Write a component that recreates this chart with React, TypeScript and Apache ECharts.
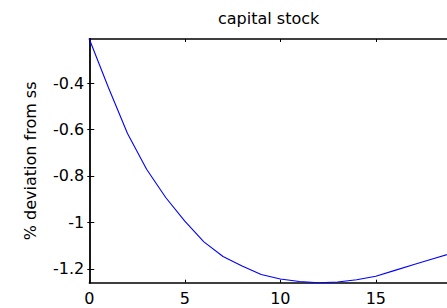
import React, { useEffect, useRef } from "react";
import * as echarts from "echarts";

// Data (MATLAB-style impulse response)
const periods: number[] = [0, 1, 2, 3, 4, 5, 6, 7, 8, 9, 10, 11, 12, 13, 14, 15, 16, 17, 18, 19];
const capitalStock: number[] = [
  -0.21, -0.419, -0.617, -0.771, -0.893, -0.995, -1.084, -1.147, -1.188, -1.225,
  -1.244, -1.255, -1.26, -1.257, -1.247, -1.232, -1.207, -1.182, -1.157, -1.132,
];
const yTicks: number[] = [-1.2, -1, -0.8, -0.6, -0.4];
const xTicks: number[] = [0, 5, 10, 15];
const titleText = "capital stock";
const yAxisName = "% deviation from ss";

const W = 447;
const H = 308;
const FONT = "'DejaVu Sans', 'Liberation Sans', Arial, sans-serif";

export default function App() {
  const ref = useRef<HTMLDivElement>(null);
  useEffect(() => {
    if (!ref.current) return;
    const chart = echarts.init(ref.current, undefined, { renderer: "svg", width: W, height: H });
    const gridLeft = 89.3;
    const pxPerUnit = 19.1;
    const gridWidth = 19 * pxPerUnit;
    chart.setOption({
      animation: false,
      backgroundColor: "#ffffff",
      title: {
        text: titleText,
        left: 218,
        top: 10,
        padding: 0,
        textStyle: { fontFamily: FONT, fontSize: 16, fontWeight: "normal", color: "#000" },
      },
      grid: {
        left: gridLeft,
        top: 39,
        width: gridWidth,
        height: 243.7,
        containLabel: false,
        outerBoundsMode: "none",
      },
      xAxis: [
        {
          type: "value",
          position: "bottom",
          min: 0,
          max: 19,
          axisLine: { show: true, onZero: false, lineStyle: { color: "#000", width: 1.5 } },
          axisTick: { show: true, inside: true, length: 3, customValues: xTicks, lineStyle: { color: "#000" } },
          axisLabel: {
            show: true,
            customValues: xTicks,
            margin: 8,
            fontFamily: FONT,
            fontSize: 16,
            color: "#000",
            formatter: (v: number) => String(v),
          },
          splitLine: { show: false },
        },
        {
          type: "value",
          position: "top",
          min: 0,
          max: 19,
          axisLine: { show: true, onZero: false, lineStyle: { color: "#000", width: 1.5 } },
          axisTick: { show: true, inside: true, length: 3, customValues: xTicks, lineStyle: { color: "#000" } },
          axisLabel: { show: false },
          splitLine: { show: false },
        },
      ],
      yAxis: [
        {
          type: "value",
          position: "left",
          min: -1.26,
          max: -0.21,
          name: yAxisName,
          nameLocation: "middle",
          nameGap: 51,
          nameTextStyle: { fontFamily: FONT, fontSize: 16, color: "#000" },
          axisLine: { show: true, onZero: false, lineStyle: { color: "#000", width: 1.8 } },
          axisTick: { show: true, inside: true, length: 5, customValues: yTicks, lineStyle: { color: "#000" } },
          axisLabel: {
            show: true,
            customValues: yTicks,
            margin: 5,
            fontFamily: FONT,
            fontSize: 16,
            color: "#000",
            formatter: (v: number) => String(Math.round(v * 10) / 10),
          },
          splitLine: { show: false },
        },
        {
          type: "value",
          position: "right",
          offset: -3,
          min: -1.26,
          max: -0.21,
          axisLine: { show: false },
          axisTick: { show: true, inside: true, length: 5, customValues: yTicks, lineStyle: { color: "#000" } },
          axisLabel: { show: false },
          splitLine: { show: false },
        },
      ],
      series: [
        {
          type: "line",
          xAxisIndex: 0,
          yAxisIndex: 0,
          data: periods.map((p, i) => [p, capitalStock[i]]),
          showSymbol: false,
          symbol: "none",
          lineStyle: { color: "#0000ff", width: 1.1 },
          clip: true,
        },
      ],
    });
    return () => chart.dispose();
  }, []);
  return (
    <div
      style={{
        position: "fixed",
        left: 0,
        top: 0,
        width: W,
        height: H,
        overflow: "hidden",
        background: "#fff",
      }}
    >
      <div ref={ref} style={{ width: W, height: H }} />
    </div>
  );
}
